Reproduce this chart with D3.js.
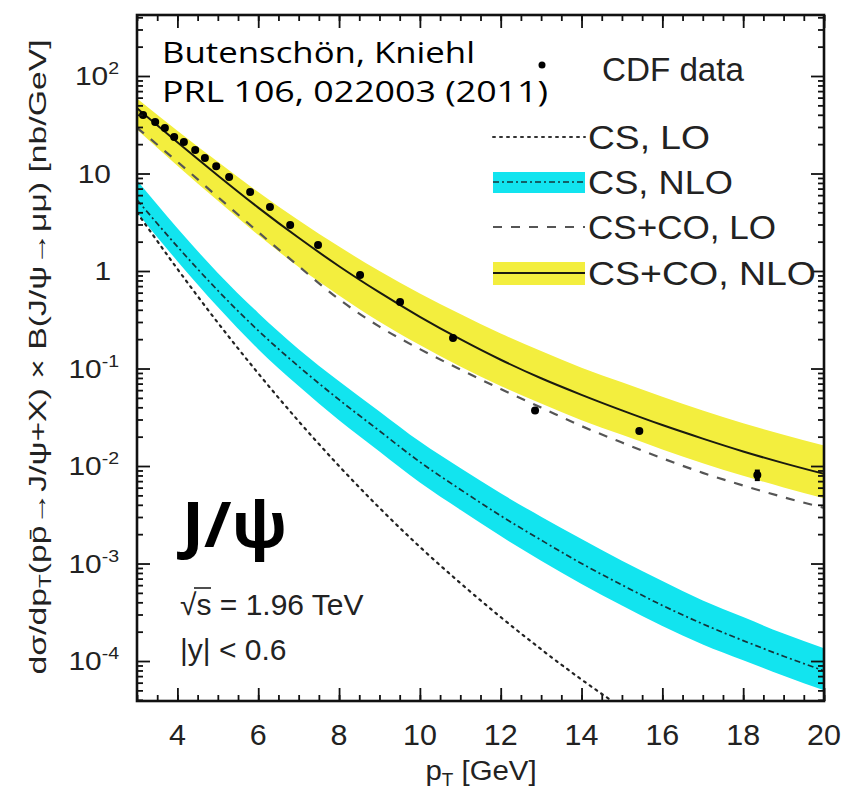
<!DOCTYPE html>
<html><head><meta charset="utf-8">
<script src="https://cdn.jsdelivr.net/npm/d3@7"></script>
<style>body{margin:0;background:#fff} svg{display:block}</style>
</head><body>
<svg id="c" width="845" height="795"></svg>
<script>
// ---- data ----
const pT = [3,4,5,6,7,8,9,10,11,12,13,14,15,16,17,18,19,20];
const csLO_pT = [3,4,5,6,7,8,9,10,11,12,13,14,15];
const csLO = [3.98,1.05,0.295,0.0891,0.0288,0.0100,3.72e-3,1.48e-3,6.31e-4,2.82e-4,1.32e-4,6.46e-5,3.31e-5];
const csNLO = [5.37,1.78,0.631,0.245,0.105,0.0479,0.0229,0.0110,5.75e-3,3.09e-3,1.74e-3,1.00e-3,6.03e-4,3.72e-4,2.40e-4,1.62e-4,1.12e-4,7.94e-5];
const csNLO_hi = [8.51,2.75,0.955,0.372,0.158,0.0741,0.0363,0.0178,9.55e-3,5.25e-3,3.02e-3,1.78e-3,1.07e-3,6.61e-4,4.17e-4,2.82e-4,1.91e-4,1.35e-4];
const csNLO_lo = [3.98,1.26,0.427,0.158,0.0661,0.0295,0.0141,6.76e-3,3.55e-3,1.91e-3,1.07e-3,6.17e-4,3.72e-4,2.29e-4,1.48e-4,1.02e-4,7.08e-5,5.01e-5];
const coLO = [29.5,13.2,5.75,2.51,1.12,0.513,0.269,0.158,0.0977,0.0617,0.0398,0.0257,0.0174,0.0120,8.51e-3,6.31e-3,4.79e-3,3.72e-3];
const coNLO = [46.8,20.9,9.55,4.47,2.19,1.12,0.603,0.339,0.200,0.123,0.0794,0.0537,0.0372,0.0263,0.0191,0.0141,0.0107,8.3e-3];
const coNLO_hi = [58.9,27.5,13.2,6.46,3.31,1.78,1.00,0.589,0.363,0.229,0.151,0.102,0.0724,0.0513,0.0372,0.0275,0.0209,0.0162];
const coNLO_lo = [28.2,12.0,5.25,2.34,1.10,0.562,0.302,0.174,0.105,0.0661,0.0437,0.0295,0.0209,0.0148,0.0107,7.94e-3,6.03e-3,4.68e-3];
const cdf_pT = [3.15,3.45,3.69,3.92,4.16,4.44,4.68,4.96,5.28,5.80,6.29,6.79,7.48,8.52,9.51,10.82,12.85,15.43,18.35];
const cdf = [39.8,33.7,29.3,23.7,21.0,17.4,14.4,11.9,9.2,6.46,4.53,2.96,1.85,0.91,0.48,0.206,0.037,0.0229,0.0081];
const cdf_err = [0,0,0,0,0,0,0,0,0,0,0,0,0,0,0,0,0,0,0.0011];
const xTickLabels = ["4","6","8","10","12","14","16","18","20"];
const xTickValues = [4,6,8,10,12,14,16,18,20];
const yTickValues = [1e-4,1e-3,1e-2,1e-1,1,10,100];
const yTickExp = ["-4","-3","-2","-1","","",  "2"];
const yTickBase = ["10","10","10","10","1","10","10"];
const legendLabels = ["CDF data","CS, LO","CS, NLO","CS+CO, LO","CS+CO, NLO"];

// ---- layout ----
const L=137, R=824, T=15, B=701;
const YELLOW="#f3ee3e", CYAN="#12e4ef";
const svg = d3.select("#c");
const x = d3.scaleLinear().domain([3,20]).range([L,R]);
const y = d3.scaleLog().domain([Math.pow(10,-4.41), Math.pow(10,2.6256)]).range([B,T]);
const FONT = "'Liberation Sans', Arial, Helvetica, sans-serif";
const SX = 1.15;

svg.append("defs").append("clipPath").attr("id","clip")
  .append("rect").attr("x",L).attr("y",T).attr("width",R-L).attr("height",B-T);
const plot = svg.append("g").attr("clip-path","url(#clip)");

const idx = pT.map((d,i)=>i);
const band = (lo,hi)=>d3.area().x(i=>x(pT[i])).y0(i=>y(lo[i])).y1(i=>y(hi[i])).curve(d3.curveMonotoneX);
const line = (arr,xs)=>d3.line().x(i=>x(xs[i])).y(i=>y(arr[i])).curve(d3.curveMonotoneX);

plot.append("path").attr("d",band(coNLO_lo,coNLO_hi)(idx)).attr("fill",YELLOW);
plot.append("path").attr("d",band(csNLO_lo,csNLO_hi)(idx)).attr("fill",CYAN);
plot.append("path").attr("d",line(csLO,csLO_pT)(csLO_pT.map((d,i)=>i)))
  .attr("fill","none").attr("stroke","#222").attr("stroke-width",2.2).attr("stroke-dasharray","2,5").attr("stroke-linecap","round");
plot.append("path").attr("d",line(csNLO,pT)(idx))
  .attr("fill","none").attr("stroke","#15343a").attr("stroke-width",1.7).attr("stroke-dasharray","6,3,2,3");
plot.append("path").attr("d",line(coLO,pT)(idx))
  .attr("fill","none").attr("stroke","#555").attr("stroke-width",2.2).attr("stroke-dasharray","9,9");
plot.append("path").attr("d",line(coNLO,pT)(idx))
  .attr("fill","none").attr("stroke","#1a1a10").attr("stroke-width",2);
plot.selectAll("rect.err").data(cdf_pT.map((d,i)=>i).filter(i=>cdf_err[i]>0)).enter().append("rect")
  .attr("x",i=>x(cdf_pT[i])-2.5).attr("width",5)
  .attr("y",i=>y(cdf[i]+cdf_err[i])).attr("height",i=>y(cdf[i]-cdf_err[i])-y(cdf[i]+cdf_err[i])).attr("fill","#000");
plot.selectAll("circle.d").data(cdf_pT.map((d,i)=>i)).enter().append("circle")
  .attr("cx",i=>x(cdf_pT[i])).attr("cy",i=>y(cdf[i])).attr("r",4).attr("fill","#000");

// ---- axes (ticks inside, all four sides) ----
const xMinor = d3.range(3,20.01,0.5);
const yMinor = [];
for (let e=-5;e<=2;e++) for (let k=2;k<=9;k++){const v=k*Math.pow(10,e); if(v>y.domain()[0]&&v<y.domain()[1]) yMinor.push(v);}
function axisStyle(g){g.select(".domain").remove(); g.selectAll("line").attr("stroke","#111").attr("stroke-width",1.8); g.selectAll("text").remove();}
svg.append("g").attr("transform",`translate(0,${B})`).call(d3.axisBottom(x).tickValues(xMinor).tickSize(-6)).call(axisStyle);
svg.append("g").attr("transform",`translate(0,${B})`).call(d3.axisBottom(x).tickValues(xTickValues).tickSize(-13)).call(axisStyle);
svg.append("g").attr("transform",`translate(0,${T})`).call(d3.axisTop(x).tickValues(xMinor).tickSize(-6)).call(axisStyle);
svg.append("g").attr("transform",`translate(0,${T})`).call(d3.axisTop(x).tickValues(xTickValues).tickSize(-13)).call(axisStyle);
svg.append("g").attr("transform",`translate(${L},0)`).call(d3.axisLeft(y).tickValues(yMinor).tickSize(-6)).call(axisStyle);
svg.append("g").attr("transform",`translate(${L},0)`).call(d3.axisLeft(y).tickValues(yTickValues).tickSize(-13)).call(axisStyle);
svg.append("g").attr("transform",`translate(${R},0)`).call(d3.axisRight(y).tickValues(yMinor).tickSize(-6)).call(axisStyle);
svg.append("g").attr("transform",`translate(${R},0)`).call(d3.axisRight(y).tickValues(yTickValues).tickSize(-13)).call(axisStyle);
svg.append("rect").attr("x",L).attr("y",T).attr("width",R-L).attr("height",B-T)
  .attr("fill","none").attr("stroke","#111").attr("stroke-width",2.6);

function txt(xp,yp,anchor,size,sx){
  return svg.append("text").attr("transform",`translate(${xp},${yp}) scale(${sx||SX},1)`)
    .attr("text-anchor",anchor).attr("font-family",FONT).attr("font-size",size).attr("fill","#222");
}
xTickValues.forEach((v,i)=>{ txt(x(v),745,"middle",29,1.05).text(xTickLabels[i]); });
yTickValues.forEach((v,i)=>{
  const t = txt(yTickExp[i]?119:111, y(v)+9,"end",26,1.15);
  t.append("tspan").text(yTickBase[i]);
  if (yTickExp[i]) t.append("tspan").attr("dy",-11).attr("font-size",17).text(yTickExp[i]);
});
const xt = txt(481,780,"middle",28,1.05);
xt.append("tspan").text("p");
xt.append("tspan").attr("dy",6).attr("font-size",18).text("T");
xt.append("tspan").attr("dy",-6).text(" [GeV]");
const yt = svg.append("text").attr("transform","translate(46,357) rotate(-90)")
  .attr("text-anchor","middle").attr("font-family",FONT).attr("font-size",24).attr("fill","#222")
  .attr("textLength",635).attr("lengthAdjust","spacingAndGlyphs");
yt.append("tspan").text("dσ/dp");
yt.append("tspan").attr("dy",5).attr("font-size",16).text("T");
yt.append("tspan").attr("dy",-5).text("(pp\u0304\u2192J/ψ+X) × B(J/ψ\u2192μμ)  [nb/GeV]");

// ---- legend ----
const lx0=493, lx1=585, tx=588;
svg.append("circle").attr("cx",542).attr("cy",65).attr("r",3.5).attr("fill","#000");
svg.append("line").attr("x1",lx0).attr("x2",lx1).attr("y1",137).attr("y2",137)
  .attr("stroke","#333").attr("stroke-width",2).attr("stroke-dasharray","2,5").attr("stroke-linecap","round");
svg.append("rect").attr("x",lx0).attr("y",172).attr("width",lx1-lx0).attr("height",21).attr("fill",CYAN);
svg.append("line").attr("x1",lx0).attr("x2",lx1).attr("y1",182).attr("y2",182)
  .attr("stroke","#15343a").attr("stroke-width",1.7).attr("stroke-dasharray","6,3,2,3");
svg.append("line").attr("x1",lx0).attr("x2",lx1).attr("y1",227).attr("y2",227)
  .attr("stroke","#555").attr("stroke-width",2.2).attr("stroke-dasharray","9,9");
svg.append("rect").attr("x",lx0).attr("y",262).attr("width",lx1-lx0).attr("height",23).attr("fill",YELLOW);
svg.append("line").attr("x1",lx0).attr("x2",lx1).attr("y1",273).attr("y2",273)
  .attr("stroke","#1a1a10").attr("stroke-width",2);
const legY=[69,137,182,227,273];
const legW=[142,122,145,188,228];
legendLabels.forEach((s,i)=>{
  svg.append("text").attr("x",i===0?602:tx).attr("y",legY[i]+12)
    .attr("font-family",FONT).attr("font-size",33).attr("fill","#222")
    .attr("textLength",legW[i]).attr("lengthAdjust","spacingAndGlyphs").text(s);
});

// ---- annotations ----
txt(180,615,"start",30,1.0).text("√s = 1.96 TeV");
svg.append("line").attr("x1",194).attr("x2",211).attr("y1",588).attr("y2",588).attr("stroke","#222").attr("stroke-width",1.6);
txt(180,660,"start",30,1.0).text("|y| < 0.6");
const ANN="'Open Sans', 'DejaVu Sans', sans-serif";
svg.append("text").attr("x",162).attr("y",63).attr("font-family",ANN).attr("font-size",30).attr("fill","#000")
  .attr("textLength",313).attr("lengthAdjust","spacingAndGlyphs").text("Butenschön, Kniehl");
svg.append("text").attr("x",162).attr("y",102).attr("font-family",ANN).attr("font-size",30).attr("fill","#000")
  .attr("textLength",386).attr("lengthAdjust","spacingAndGlyphs").text("PRL 106, 022003 (2011)");
svg.append("text").attr("x",182).attr("y",547).attr("font-family",ANN).attr("font-weight","bold").attr("font-size",62).attr("fill","#000")
  .attr("textLength",105).attr("lengthAdjust","spacingAndGlyphs").text("J/ψ");
</script>
</body></html>
